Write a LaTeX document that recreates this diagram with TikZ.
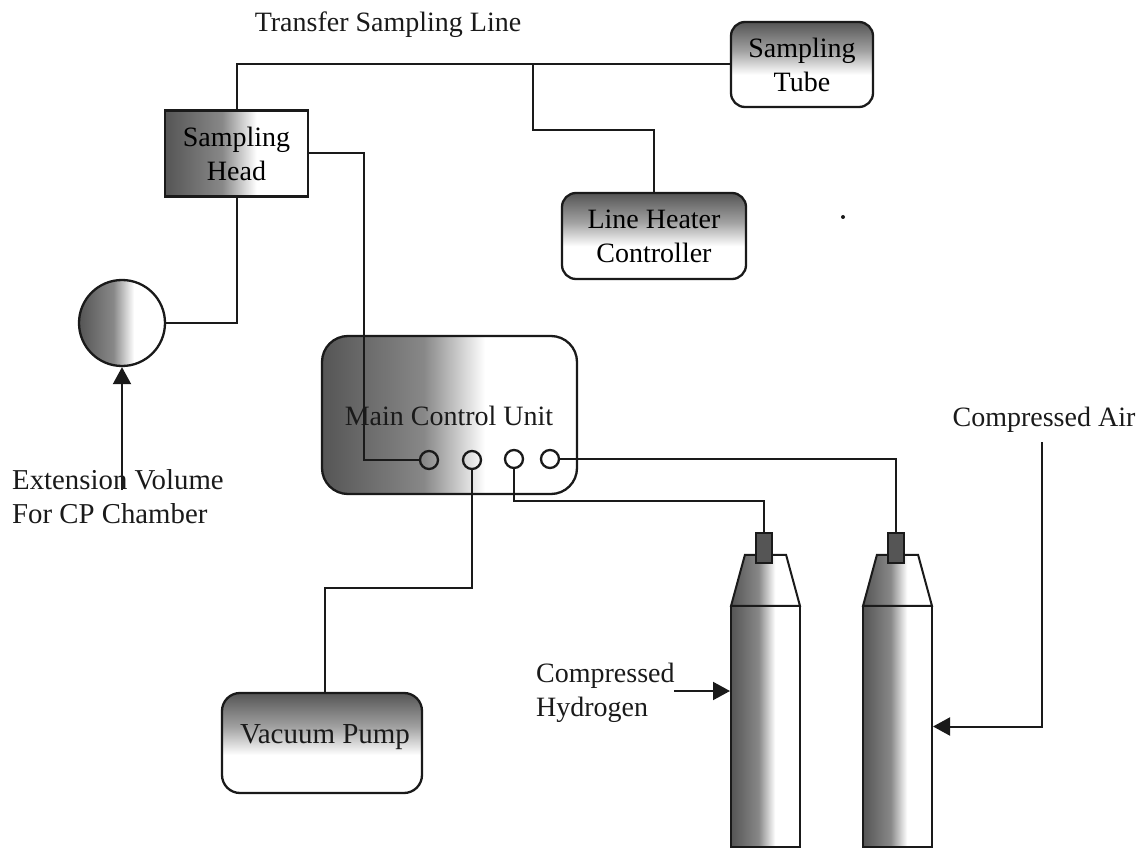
\documentclass[tikz,border=0pt]{standalone}
\usepackage{fontspec}
\setmainfont{Liberation Serif}
\usetikzlibrary{arrows.meta,positioning,shapes.geometric}
\definecolor{ink}{HTML}{1A1A1A}
\definecolor{dark}{HTML}{555555}
\pgfdeclarehorizontalshading{fadeside}{100bp}{color(0bp)=(dark);color(25bp)=(dark);color(45bp)=(dark!70!white);color(57bp)=(white);color(100bp)=(white)}
\pgfdeclareverticalshading{fadetop}{100bp}{color(0bp)=(white);color(44bp)=(white);color(58bp)=(dark!55!white);color(75bp)=(dark);color(100bp)=(dark)}
\begin{document}
\begin{tikzpicture}[x=1pt,y=-1pt,font=\fontsize{28}{34}\selectfont,
  box/.style={draw=ink,line width=2.3pt,align=center,inner sep=0pt},
  side/.style={box,shading=fadeside},
  top/.style={box,shading=fadetop,rounded corners=14pt},
  lbl/.style={align=left,inner sep=0pt,text=ink},
  port/.style={circle,draw=ink,line width=2.3pt,minimum size=18pt,inner sep=0pt},
  conn/.style={draw=ink,line width=2pt},
  arr/.style={conn,-{Triangle[length=17pt,width=18pt]}}]
\useasboundingbox (0,0) rectangle (1144,850);
\node[side,minimum width=143pt,minimum height=86pt] (head) at (236.5,153.5) {Sampling\\Head};
\node[top,minimum width=142pt,minimum height=85pt] (tube) at (802,64.5) {Sampling\\Tube};
\node[top,minimum width=184pt,minimum height=86pt] (heater) at (654,236) {Line Heater\\Controller};
\node[top,minimum width=200pt,minimum height=100pt,rounded corners=18pt] (vac) at (322,743) {};
\node[lbl,anchor=base,font=\fontsize{29}{34}\selectfont] (vaclbl) at (325,743) {Vacuum Pump};
\node[side,circle,minimum size=86pt] (vol) at (122,323) {};
\node[side,minimum width=255pt,minimum height=158pt,rounded corners=26pt] (main) at (449.5,415) {};
\node[lbl,anchor=base] (mainlbl) at (449,425) {Main Control Unit};
\foreach \n/\x/\y in {p1/429/460,p2/472/460,p3/514/459,p4/550/459}
  \node[port] (\n) at (\x,\y) {};
\foreach \n/\x in {h/765.5,a/897.5}{
  \node[side,line width=2pt,minimum width=69pt,minimum height=241pt] (body\n) at (\x,726.5) {};
  \node[side,line width=2pt,trapezium,trapezium stretches=true,inner sep=1pt,trapezium angle=71.4,minimum width=69pt,minimum height=51pt,above=-2pt of body\n] (cap\n) {};
  \node[box,fill=dark,minimum width=16pt,minimum height=30pt,above=-10pt of cap\n,xshift=-1.5pt] (noz\n) {};
}
\node[lbl,anchor=base] (title) at (388,32) {Transfer Sampling Line};
\node[lbl,anchor=west,font=\fontsize{28.8}{34}\selectfont] (extlbl) at (12,497) {Extension Volume\\For CP Chamber};
\node[lbl,anchor=west] (h2lbl) at (536,692.5) {Compressed\\Hydrogen};
\node[lbl,anchor=base] (airlbl) at (1044,426) {Compressed Air};
\node[circle,fill=ink,inner sep=0pt,minimum size=4pt] (speck) at (843,217) {};
\coordinate (tee) at (533,64.5);
\coordinate (extend) at (122,490);
\coordinate (h2start) at (674,691);
\coordinate (airstart) at (1042,442);
\draw[conn] (head.north) |- (tube.west);
\draw[conn] (tee) -- (533,130) -| (heater.north);
\draw[conn] (head.east) -| (364,460) -- (p1.west);
\draw[conn] (head.south) |- (vol.east);
\draw[conn] (p2.south) |- (325,588) -- ([xshift=3pt]vac.north);
\draw[conn] (p3.south) -- (514,501) -| (nozh.north);
\draw[conn] (p4.east) -| (noza.north);
\draw[arr] (extend) -- (vol.south);
\draw[arr] (h2start) -- ([yshift=35.5pt]bodyh.west);
\draw[arr] (airstart) |- (bodya.east);
\end{tikzpicture}
\end{document}
